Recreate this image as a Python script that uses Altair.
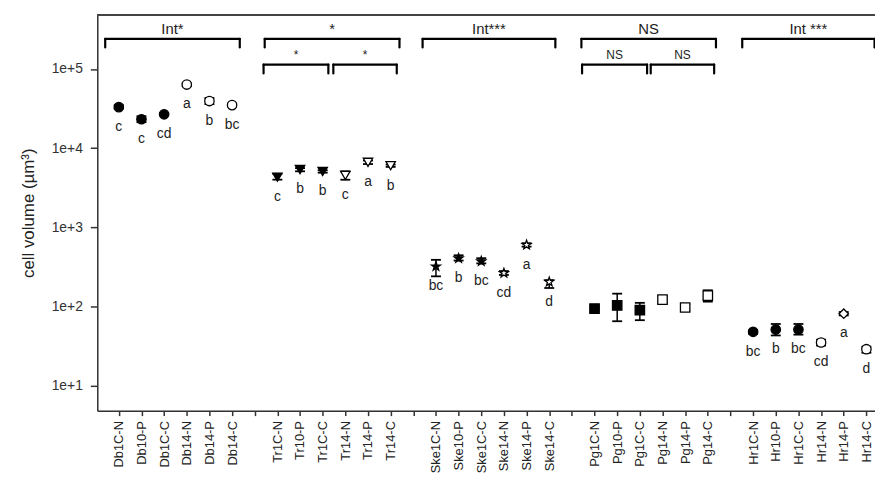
import altair as alt
import pandas as pd

# ---------------- data ----------------
groups = ["Db", "Tr", "Ske", "Pg", "Hr"]
categories = [
    ["Db1C-N", "Db10-P", "Db1C-C", "Db14-N", "Db14-P", "Db14-C"],
    ["Tr1C-N", "Tr10-P", "Tr1C-C", "Tr14-N", "Tr14-P", "Tr14-C"],
    ["Ske1C-N", "Ske10-P", "Ske1C-C", "Ske14-N", "Ske14-P", "Ske14-C"],
    ["Pg1C-N", "Pg10-P", "Pg1C-C", "Pg14-N", "Pg14-P", "Pg14-C"],
    ["Hr1C-N", "Hr10-P", "Hr1C-C", "Hr14-N", "Hr14-P", "Hr14-C"],
]
volume = [
    [33000, 23200, 26800, 63700, 39400, 35000],
    [4300, 5370, 5070, 4520, 6620, 6000],
    [320, 405, 372, 264, 598, 204],
    [94, 103, 90, 122, 97, 137],
    [47.8, 51, 51, 35, 81, 28.8],
]
volume_lo = [
    [31500, 21300, 25800, 61000, 36000, 33500],
    [4000, 5100, 4900, 3990, 6300, 5800],
    [240, 380, 350, 250, 570, 171],
    [90, 65, 67, 112, 88, 115],
    [45, 43, 44, 32, 77, 26],
]
volume_hi = [
    [35000, 25300, 27800, 66000, 43000, 36500],
    [4740, 5600, 5250, 5100, 6970, 6200],
    [388, 443, 407, 280, 630, 215],
    [98, 145, 111, 135, 107, 160],
    [50, 60, 60, 38, 85, 31],
]
letters = [
    ["c", "c", "cd", "a", "b", "bc"],
    ["c", "b", "b", "c", "a", "b"],
    ["bc", "b", "bc", "cd", "a", "d"],
    ["", "", "", "", "", ""],
    ["bc", "b", "bc", "cd", "a", "d"],
]

# significance brackets (in category-position units)
bracket_x1 = [-0.60, 6.44, 13.41, 20.42, 27.52]
bracket_x2 = [5.34, 12.39, 19.27, 26.36, 33.36]
bracket_labels = ["Int*", "*", "Int***", "NS", "Int ***"]
sub_x1 = [6.39, 9.47, 20.45, 23.48]
sub_x2 = [9.25, 12.27, 23.32, 26.28]
sub_labels = ["*", "*", "NS", "NS"]

y_ticks = [10, 100, 1000, 10000, 100000]

# ---------------- build tables ----------------
STAR = ("M0,-1L0.235,-0.324L0.951,-0.309L0.38,0.124L0.588,0.809L0,0.4"
        "L-0.588,0.809L-0.38,0.124L-0.951,-0.309L-0.235,-0.324Z")
group_shape = {"Db": "circle", "Tr": "triangle-down", "Ske": STAR,
               "Pg": "square", "Hr": "circle"}

tick_labels = []
rows = []
for gi, g in enumerate(groups):
    if gi > 0:
        tick_labels.append("")
    for ci, cat in enumerate(categories[gi]):
        pos = len(tick_labels)
        tick_labels.append(cat)
        shape = group_shape[g]
        if cat == "Hr14-P":
            shape = "diamond"
        rows.append({
            "pos": pos, "cat": cat, "v": volume[gi][ci],
            "lo": volume_lo[gi][ci], "hi": volume_hi[gi][ci],
            "letter": letters[gi][ci], "shape": shape,
            "fill": "white" if "14" in cat else "black",
        })
df = pd.DataFrame(rows)

TOP_Y, TOP_DROP, TOP_TXT = 2.4e5, 1.87e5, 2.8e5
SUB_Y, SUB_DROP, SUB_TXT = 1.135e5, 8.8e4, 1.34e5

br = pd.DataFrame({"x1": bracket_x1 + sub_x1, "x2": bracket_x2 + sub_x2,
                   "label": bracket_labels + sub_labels,
                   "y": [TOP_Y] * 5 + [SUB_Y] * 4,
                   "yd": [TOP_DROP] * 5 + [SUB_DROP] * 4,
                   "yt": [TOP_TXT] * 5 + [SUB_TXT] * 4,
                   "fs": [15] * 5 + [12] * 4})
br["mid"] = (br["x1"] + br["x2"]) / 2
ends = pd.concat([br[["x1", "y", "yd"]].rename(columns={"x1": "x"}),
                  br[["x2", "y", "yd"]].rename(columns={"x2": "x"})])

# ---------------- encodings ----------------
W, H = 784, 399
FONT = "Liberation Sans"
label_expr = "[" + ",".join("'" + t + "'" for t in tick_labels) + "][datum.value]"

x_scale = alt.Scale(domain=[-0.95, 33.38], nice=False, zero=False)
y_scale = alt.Scale(type="log", domain=[4.82, 484000], nice=False)
x_axis = alt.Axis(values=list(range(len(tick_labels))), labelExpr=label_expr,
                  labelAngle=270, grid=False, tickSize=5, labelPadding=5,
                  labelFontSize=13, labelFont=FONT, labelColor="#222",
                  domainColor="#333", tickColor="#333", domainWidth=1.5,
                  tickWidth=1.5, title=None, labelOverlap=False)
y_axis = alt.Axis(values=y_ticks, labelExpr="'1e+' + round(log(datum.value)/LN10)",
                  grid=False, tickSize=7, labelPadding=8, labelFontSize=14,
                  labelFont=FONT, labelColor="#333", domainColor="#333",
                  tickColor="#333", domainWidth=1.5, tickWidth=1.5,
                  title="cell volume (µm³)", titleFont=FONT, titleFontSize=17,
                  titleFontWeight="normal", titleColor="#222", titlePadding=14)


def X(f):
    return alt.X(f"{f}:Q", scale=x_scale, axis=x_axis)


def Y(f):
    return alt.Y(f"{f}:Q", scale=y_scale, axis=y_axis)


base = alt.Chart(df)
err = base.mark_rule(color="black", strokeWidth=1.5).encode(x=X("pos"), y=Y("lo"), y2="hi")
cap_lo = base.mark_point(shape="stroke", size=100, color="black", strokeWidth=1.8,
                         opacity=1).encode(x=X("pos"), y=Y("lo"))
cap_hi = base.mark_point(shape="stroke", size=100, color="black", strokeWidth=1.8,
                         opacity=1).encode(x=X("pos"), y=Y("hi"))
pts = base.mark_point(size=90, stroke="black", strokeWidth=1.3, opacity=1,
                      filled=False).encode(
    x=X("pos"), y=Y("v"),
    shape=alt.Shape("shape:N", scale=None),
    fill=alt.Fill("fill:N", scale=None))
lett = base.mark_text(dy=20, baseline="middle", fontSize=14, font=FONT,
                      color="#222").encode(x=X("pos"), y=Y("v"), text="letter:N")

brb = alt.Chart(br)
hline = brb.mark_rule(color="black", strokeWidth=2.2, strokeCap="round").encode(
    x=X("x1"), x2="x2", y=Y("y"))
vline = alt.Chart(ends).mark_rule(color="black", strokeWidth=2.2, strokeCap="round").encode(
    x=X("x"), y=Y("y"), y2="yd")
btxt = brb.mark_text(baseline="alphabetic", font=FONT, color="#222").encode(
    x=X("mid"), y=Y("yt"), text="label:N",
    size=alt.Size("fs:Q", scale=None))

frame = alt.Chart(df).mark_rule(color="#444", strokeWidth=1.5).encode(
    x=alt.value(0), x2=alt.value(W), y=alt.value(0))

chart = alt.layer(frame, err, cap_lo, cap_hi, pts, lett, hline, vline, btxt).properties(
    width=W, height=H,
    autosize=alt.AutoSizeParams(type="none"),
    padding={"left": 90, "top": 5, "right": 0, "bottom": 65},
).configure_view(stroke=None).configure(background="white")

chart.save("out.html", embed_options={"renderer": "svg", "actions": False})
